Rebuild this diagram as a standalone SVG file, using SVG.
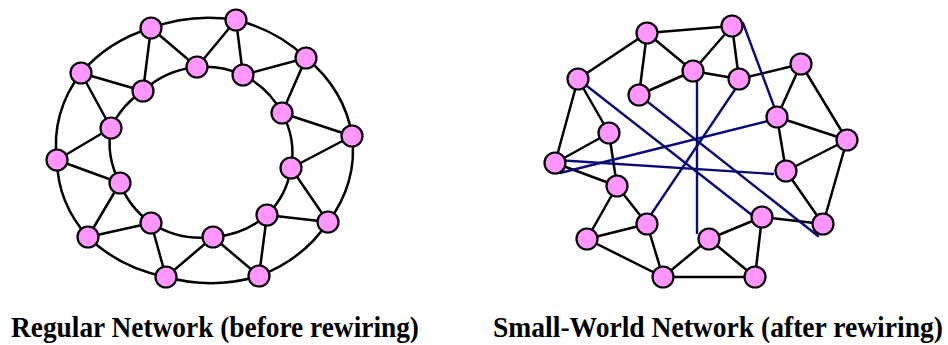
<svg xmlns="http://www.w3.org/2000/svg" width="948" height="345" viewBox="0 0 948 345">
<style>
.e{fill:none;stroke:#000;stroke-width:2.5;stroke-linecap:round}
.b{fill:none;stroke:#0a0a78;stroke-width:2.4;stroke-linecap:round}
.n{fill:#ff96ff;stroke:#000;stroke-width:2.2}
.t{font-family:"Liberation Serif","Times New Roman",serif;font-weight:bold;font-size:27.4px;fill:#000}
</style>
<rect width="948" height="345" fill="#fff"/>
<g id="connectors">
<!-- left: outer ring -->
<path class="e" d="M151,28 A148,128 0 0 1 236,20"/>
<path class="e" d="M236,20 A148,128 0 0 1 306,58"/>
<path class="e" d="M306,58 A148,128 0 0 1 352,136"/>
<path class="e" d="M352,136 A148,128 0 0 1 328,222"/>
<path class="e" d="M328,222 A148,128 0 0 1 259,276"/>
<path class="e" d="M259,276 A148,128 0 0 1 166,277"/>
<path class="e" d="M166,277 A148,128 0 0 1 88,237"/>
<path class="e" d="M88,237 A148,128 0 0 1 57,160"/>
<path class="e" d="M57,160 A148,128 0 0 1 81,73"/>
<path class="e" d="M81,73 A148,128 0 0 1 151,28"/>
<!-- left: inner ring -->
<path class="e" d="M197,67 A90,86 0 0 1 243,75"/>
<path class="e" d="M243,75 A90,86 0 0 1 282,113"/>
<path class="e" d="M282,113 A90,86 0 0 1 291,168"/>
<path class="e" d="M291,168 A90,86 0 0 1 267,215"/>
<path class="e" d="M267,215 A90,86 0 0 1 213,237"/>
<path class="e" d="M213,237 A90,86 0 0 1 151,223"/>
<path class="e" d="M151,223 A90,86 0 0 1 120,183"/>
<path class="e" d="M120,183 A90,86 0 0 1 111,128"/>
<path class="e" d="M111,128 A90,86 0 0 1 143,91"/>
<path class="e" d="M143,91 A90,86 0 0 1 197,67"/>
<!-- left: spokes -->
<path class="e" d="M151,28 L143,91 M151,28 L197,67 M236,20 L197,67 M236,20 L243,75 M306,58 L243,75 M306,58 L282,113 M352,136 L282,113 M352,136 L291,168 M328,222 L291,168 M328,222 L267,215 M259,276 L267,215 M259,276 L213,237 M166,277 L213,237 M166,277 L151,223 M88,237 L151,223 M88,237 L120,183 M57,160 L120,183 M57,160 L111,128 M81,73 L111,128 M81,73 L143,91"/>
<!-- right: black edges -->
<path class="e" d="M647,33 L732,26 M647,33 L578,79 M647,33 L693,71 M647,33 L639,95 M732,26 L693,71 M732,26 L739,79 M693,71 L739,79 M693,71 L639,95 M739,79 L801,64 M801,64 L777,117 M801,64 L847,140 M777,117 L847,140 M777,117 L786,171 M786,171 L847,140 M786,171 L823,224 M847,140 L823,224 M823,224 L762,217 M762,217 L709,239 M762,217 L755,277 M709,239 L663,277 M709,239 L755,277 M663,277 L755,277 M663,277 L587,239 M663,277 L647,224 M647,224 L587,239 M647,224 L617,186 M617,186 L587,239 M617,186 L555,163 M617,186 L609,133 M609,133 L555,163 M609,133 L578,79 M555,163 L578,79"/>
<!-- right: rewired edges -->
<path class="b" d="M743,23 L775,109"/>
<path class="b" d="M578,79 L757,219"/>
<path class="b" d="M639,95 L818,236"/>
<path class="b" d="M697,75 L697,233"/>
<path class="b" d="M736,88 L650,216"/>
<path class="b" d="M560,173 L772,120"/>
<path class="b" d="M556,160 L773,174"/>
</g>
<g id="regular">
<g id="L-A"><circle class="n" cx="151" cy="28" r="10.5"/></g>
<g id="L-B"><circle class="n" cx="236" cy="20" r="10.5"/></g>
<g id="L-C"><circle class="n" cx="197" cy="67" r="10.5"/></g>
<g id="L-D"><circle class="n" cx="243" cy="75" r="10.5"/></g>
<g id="L-E"><circle class="n" cx="306" cy="58" r="10.5"/></g>
<g id="L-F"><circle class="n" cx="81" cy="73" r="10.5"/></g>
<g id="L-G"><circle class="n" cx="143" cy="91" r="10.5"/></g>
<g id="L-H"><circle class="n" cx="282" cy="113" r="10.5"/></g>
<g id="L-I"><circle class="n" cx="352" cy="136" r="10.5"/></g>
<g id="L-J"><circle class="n" cx="111" cy="128" r="10.5"/></g>
<g id="L-K"><circle class="n" cx="57" cy="160" r="10.5"/></g>
<g id="L-L"><circle class="n" cx="291" cy="168" r="10.5"/></g>
<g id="L-M"><circle class="n" cx="120" cy="183" r="10.5"/></g>
<g id="L-N"><circle class="n" cx="267" cy="215" r="10.5"/></g>
<g id="L-O"><circle class="n" cx="328" cy="222" r="10.5"/></g>
<g id="L-P"><circle class="n" cx="151" cy="223" r="10.5"/></g>
<g id="L-Q"><circle class="n" cx="213" cy="237" r="10.5"/></g>
<g id="L-R"><circle class="n" cx="88" cy="237" r="10.5"/></g>
<g id="L-S"><circle class="n" cx="166" cy="277" r="10.5"/></g>
<g id="L-T"><circle class="n" cx="259" cy="276" r="10.5"/></g>
</g>
<g id="smallworld">
<g id="R-A"><circle class="n" cx="647" cy="33" r="10.5"/></g>
<g id="R-B"><circle class="n" cx="732" cy="26" r="10.5"/></g>
<g id="R-C"><circle class="n" cx="693" cy="71" r="10.5"/></g>
<g id="R-D"><circle class="n" cx="739" cy="79" r="10.5"/></g>
<g id="R-E"><circle class="n" cx="801" cy="64" r="10.5"/></g>
<g id="R-F"><circle class="n" cx="578" cy="79" r="10.5"/></g>
<g id="R-G"><circle class="n" cx="639" cy="95" r="10.5"/></g>
<g id="R-H"><circle class="n" cx="777" cy="117" r="10.5"/></g>
<g id="R-I"><circle class="n" cx="847" cy="140" r="10.5"/></g>
<g id="R-J"><circle class="n" cx="609" cy="133" r="10.5"/></g>
<g id="R-K"><circle class="n" cx="555" cy="163" r="10.5"/></g>
<g id="R-L"><circle class="n" cx="786" cy="171" r="10.5"/></g>
<g id="R-M"><circle class="n" cx="617" cy="186" r="10.5"/></g>
<g id="R-N"><circle class="n" cx="762" cy="217" r="10.5"/></g>
<g id="R-O"><circle class="n" cx="823" cy="224" r="10.5"/></g>
<g id="R-P"><circle class="n" cx="647" cy="224" r="10.5"/></g>
<g id="R-Q"><circle class="n" cx="709" cy="239" r="10.5"/></g>
<g id="R-R"><circle class="n" cx="587" cy="239" r="10.5"/></g>
<g id="R-S"><circle class="n" cx="663" cy="277" r="10.5"/></g>
<g id="R-T"><circle class="n" cx="755" cy="277" r="10.5"/></g>
</g>
<g id="captions">
<text class="t" transform="scale(1,1.08)" x="11" y="312" textLength="408" lengthAdjust="spacingAndGlyphs">Regular Network (before rewiring)</text>
<text class="t" transform="scale(1,1.08)" x="493" y="312" textLength="450" lengthAdjust="spacingAndGlyphs">Small-World Network (after rewiring)</text>
</g>
</svg>
